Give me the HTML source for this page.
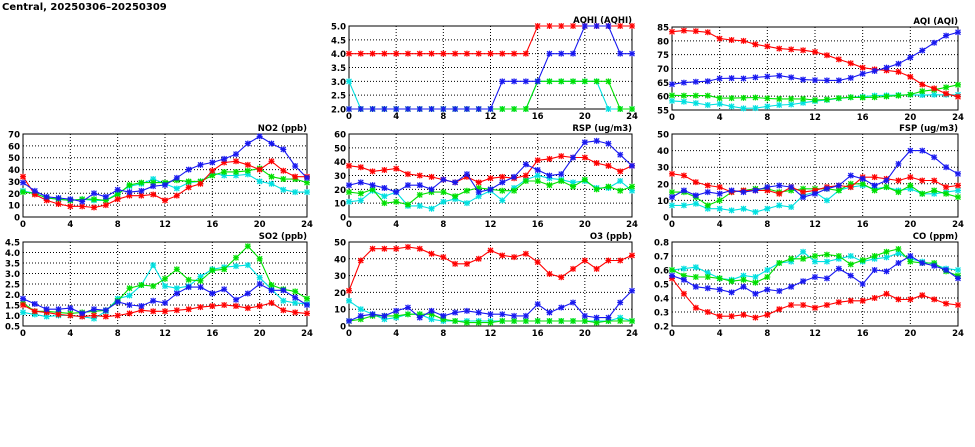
<!DOCTYPE html>
<html><head><meta charset="utf-8"><style>
html,body{margin:0;padding:0;background:#fff;}
svg{display:block;font-family:"DejaVu Sans","Liberation Sans",sans-serif;}
</style></head><body>
<svg id="chart" width="975" height="447" viewBox="0 0 975 447" xmlns="http://www.w3.org/2000/svg">
<text x="2" y="10" font-size="10" font-weight="bold">Central, 20250306–20250309</text>
</svg>
<script>
const hours = [0,1,2,3,4,5,6,7,8,9,10,11,12,13,14,15,16,17,18,19,20,21,22,23,24];
const xTicks = [0,4,8,12,16,20,24];
const seriesColors = ['#00e0e0','#00e000','#ff0000','#1818f0'];
const seriesNames = ['cyan','green','red','blue'];

const no2Ticks = [0,10,20,30,40,50,60,70];
const no2Cyan = [22,20,16,15,14,15,14,14,20,26,28,32,28,24,29,30,37,35,35,36,30,28,23,21,21];
const no2Green = [21,20,16,15,14,15,15,14,19,27,29,29,29,31,30,30,35,38,38,39,41,34,32,32,29];
const no2Red = [34,19,14,11,9,9,8,10,15,18,18,19,14,18,25,28,39,46,47,44,40,47,39,34,34];
const no2Blue = [29,22,17,16,15,13,20,17,23,21,22,26,27,33,40,44,46,49,53,62,68,62,57,43,33];

const aqhiTicks = [2.0,2.5,3.0,3.5,4.0,4.5,5.0];
const aqhiCyan = [3,2,2,2,2,2,2,2,2,2,2,2,2,2,2,2,3,3,3,3,3,3,2,2,2];
const aqhiGreen = [2,2,2,2,2,2,2,2,2,2,2,2,2,2,2,2,3,3,3,3,3,3,3,2,2];
const aqhiRed = [4,4,4,4,4,4,4,4,4,4,4,4,4,4,4,4,5,5,5,5,5,5,5,5,5];
const aqhiBlue = [2,2,2,2,2,2,2,2,2,2,2,2,2,3,3,3,3,4,4,4,5,5,5,4,4];

const aqiTicks = [55,60,65,70,75,80,85];
const aqiCyan = [58.3,58,57.5,56.8,57.2,56.3,55.6,55.7,56.3,56.8,57,57.6,58.2,58.6,59.2,59.6,59.8,60.2,60.3,60.4,60.5,60.4,60.5,60.5,60.5];
const aqiGreen = [60.3,60.2,60.2,60.2,59.3,59.3,59.4,59.5,59.2,59,59,59,58.6,58.8,59.3,59.6,59.5,59.6,59.9,60.2,60.6,61.8,62.3,63.2,64.1];
const aqiRed = [83.3,83.7,83.5,83.1,80.8,80.3,80,78.7,78,77.2,76.9,76.6,76,74.8,73.3,71.9,70.3,69.7,69.3,68.8,67,64.2,62.8,60.9,59.8];
const aqiBlue = [64.3,64.9,65.2,65.4,66.4,66.5,66.4,66.8,67.1,67.4,66.8,66,65.8,65.7,65.7,66.6,68.1,69.1,70.3,71.7,74,76.5,79.3,81.9,83.1];

const rspTicks = [0,10,20,30,40,50,60];
const rspCyan = [11,12,19,15,18,8,8,6,11,13,10,15,19,12,21,27,30,28,27,25,26,21,21,26,19];
const rspGreen = [18,17,20,10,11,9,16,18,18,15,19,21,20,19,19,26,26,23,26,22,27,20,22,19,22];
const rspRed = [37,36,33,34,35,31,30,29,27,25,29,25,28,29,28,30,41,42,44,43,43,39,37,33,37];
const rspBlue = [23,25,23,21,18,23,23,20,27,25,31,18,20,25,29,38,34,30,31,43,54,55,53,45,37];

const fspTicks = [0,10,20,30,40,50];
const fspCyan = [7,7,8,5,5,4,5,3,5,7,6,13,15,10,16,18,19,17,18,16,17,14,14,15,16];
const fspGreen = [15,15,12,7,10,15,16,17,17,15,16,17,17,17,16,20,20,16,18,15,19,14,16,14,12];
const fspRed = [26,25,21,19,18,15,16,16,16,14,18,15,16,18,19,18,24,24,23,22,24,22,22,18,19];
const fspBlue = [12,16,13,15,14,16,15,16,18,19,18,12,14,17,19,25,23,19,22,32,40,40,36,30,26];

const so2Ticks = [0.5,1.0,1.5,2.0,2.5,3.0,3.5,4.0,4.5];
const so2Cyan = [1.15,1.05,0.95,1.0,1.0,0.95,0.85,1.2,1.8,1.95,2.45,3.4,2.4,2.3,2.4,2.85,3.2,3.3,3.35,3.4,2.8,2.25,1.7,1.6,1.55];
const so2Green = [1.6,1.2,1.2,1.15,1.1,1.15,1.2,1.25,1.7,2.3,2.45,2.4,2.75,3.2,2.7,2.65,3.15,3.2,3.75,4.3,3.7,2.45,2.25,2.15,1.8];
const so2Red = [1.5,1.2,1.15,1.05,1.0,0.95,1.0,0.95,1.0,1.1,1.25,1.2,1.2,1.25,1.3,1.4,1.45,1.5,1.45,1.35,1.45,1.6,1.25,1.15,1.1];
const so2Blue = [1.8,1.55,1.3,1.3,1.35,1.1,1.3,1.25,1.65,1.5,1.45,1.7,1.6,2.05,2.35,2.35,2.05,2.25,1.75,2.05,2.5,2.2,2.2,1.85,1.5];

const o3Ticks = [0,10,20,30,40,50];
const o3Cyan = [15,10,7,4,5,7,7,4,3,3,3,3,3,3,3,3,3,3,3,3,3,3,3,5,3];
const o3Green = [3,4,6,6,6,7,7,7,4,3,2,2,2,3,3,3,3,3,3,3,3,2,3,3,3];
const o3Red = [21,39,46,46,46,47,46,43,41,37,37,40,45,42,41,43,38,31,29,34,39,34,39,39,42];
const o3Blue = [3,6,7,6,9,11,5,9,6,8,9,8,7,7,6,6,13,8,11,14,6,5,5,14,21];

const coTicks = [0.2,0.3,0.4,0.5,0.6,0.7,0.8];
const coCyan = [.60,.61,.62,.58,.54,.53,.56,.55,.60,.65,.66,.73,.66,.66,.68,.70,.66,.68,.69,.72,.68,.66,.64,.61,.60];
const coGreen = [.60,.56,.55,.55,.54,.52,.53,.51,.55,.65,.68,.68,.70,.71,.70,.64,.67,.70,.73,.75,.66,.65,.65,.59,.56];
const coRed = [.54,.43,.33,.30,.27,.27,.28,.26,.28,.32,.35,.35,.33,.35,.37,.38,.38,.40,.43,.39,.39,.42,.39,.36,.35];
const coBlue = [.56,.53,.48,.47,.46,.44,.48,.43,.46,.45,.48,.52,.55,.54,.61,.56,.50,.60,.59,.65,.70,.65,.63,.60,.54];

const NS='http://www.w3.org/2000/svg';
const svg=document.getElementById('chart');
function mk(tag,attrs,parent){const e=document.createElementNS(NS,tag);for(const k in attrs)e.setAttribute(k,attrs[k]);(parent||svg).appendChild(e);return e;}

function panel(key,title,x0,x1,y0,y1,ticks,dec,series){
  const g=mk('g',{});
  
  
  const lo=ticks[0],hi=ticks[ticks.length-1];
  const xs=h=>x0+(h-hours[0])/(hours[hours.length-1]-hours[0])*(x1-x0);
  const ys=v=>y1-(v-lo)/(hi-lo)*(y1-y0);
  ticks.forEach(t=>{
    const y=ys(t);
    if(t!==lo&&t!==hi){const l=mk('line',{x1:x0,x2:x1,y1:y,y2:y,stroke:'#000','stroke-width':1,'stroke-dasharray':'1,2'},g);
      
      }
    const tx=mk('text',{x:x0-3,y:y+3.5,'font-size':8.5,'font-weight':'bold','text-anchor':'end'},g);
    tx.textContent=t.toFixed(dec);
    
    
  });
  xTicks.forEach(t=>{
    const x=xs(t);
    if(t!==0&&t!==24){const l=mk('line',{x1:x,x2:x,y1:y0,y2:y1,stroke:'#000','stroke-width':1,'stroke-dasharray':'1,2'},g);
      
      }
    const tx=mk('text',{x:x,y:y1+10,'font-size':8.5,'font-weight':'bold','text-anchor':'middle'},g);
    tx.textContent=t;
    
    
  });
  const fr=mk('rect',{x:x0,y:y0,width:x1-x0,height:y1-y0,fill:'none',stroke:'#000','stroke-width':1},g);
  
  
  const tt=mk('text',{x:x1,y:y0-3,'font-size':8.5,'font-weight':'bold','text-anchor':'end'},g);
  tt.textContent=title;
  
  
  const clip='clip-'+key;
  const cp=mk('clipPath',{id:clip},g);
  mk('rect',{x:x0-4,y:y0-4,width:x1-x0+8,height:y1-y0+8},cp);
  series.forEach((vals,si)=>{
    const c=seriesColors[si];
    const sg=mk('g',{'clip-path':'url(#'+clip+')'},g);
    
    
    const pts=vals.map((v,i)=>xs(hours[i]).toFixed(1)+','+ys(v).toFixed(1)).join(' ');
    const pl=mk('polyline',{points:pts,fill:'none',stroke:c,'stroke-width':1.1},sg);
    
    
    vals.forEach((v,i)=>{
      const x=xs(hours[i]),y=ys(v);
      const m=mk('g',{},sg);
      
      
      mk('rect',{x:x-2.5,y:y-2.5,width:5,height:5,fill:c,opacity:0.3},m);
      mk('path',{d:`M${x-2.5},${y-2.5}L${x+2.5},${y+2.5}M${x-2.5},${y+2.5}L${x+2.5},${y-2.5}M${x-3},${y}L${x+3},${y}M${x},${y-3}L${x},${y+3}`,stroke:c,'stroke-width':1.1},m);
    });
  });
}
panel('aqhi','AQHI (AQHI)',349,632,26,109,aqhiTicks,1,[aqhiCyan,aqhiGreen,aqhiRed,aqhiBlue]);
panel('aqi','AQI (AQI)',672,958,27,110,aqiTicks,0,[aqiCyan,aqiGreen,aqiRed,aqiBlue]);
panel('no2','NO2 (ppb)',23,307,134,217,no2Ticks,0,[no2Cyan,no2Green,no2Red,no2Blue]);
panel('rsp','RSP (ug/m3)',349,632,134,217,rspTicks,0,[rspCyan,rspGreen,rspRed,rspBlue]);
panel('fsp','FSP (ug/m3)',672,958,134,217,fspTicks,0,[fspCyan,fspGreen,fspRed,fspBlue]);
panel('so2','SO2 (ppb)',23,307,242,326,so2Ticks,1,[so2Cyan,so2Green,so2Red,so2Blue]);
panel('o3','O3 (ppb)',349,632,242,326,o3Ticks,0,[o3Cyan,o3Green,o3Red,o3Blue]);
panel('co','CO (ppm)',672,958,242,326,coTicks,1,[coCyan,coGreen,coRed,coBlue]);
</script>
</body></html>
